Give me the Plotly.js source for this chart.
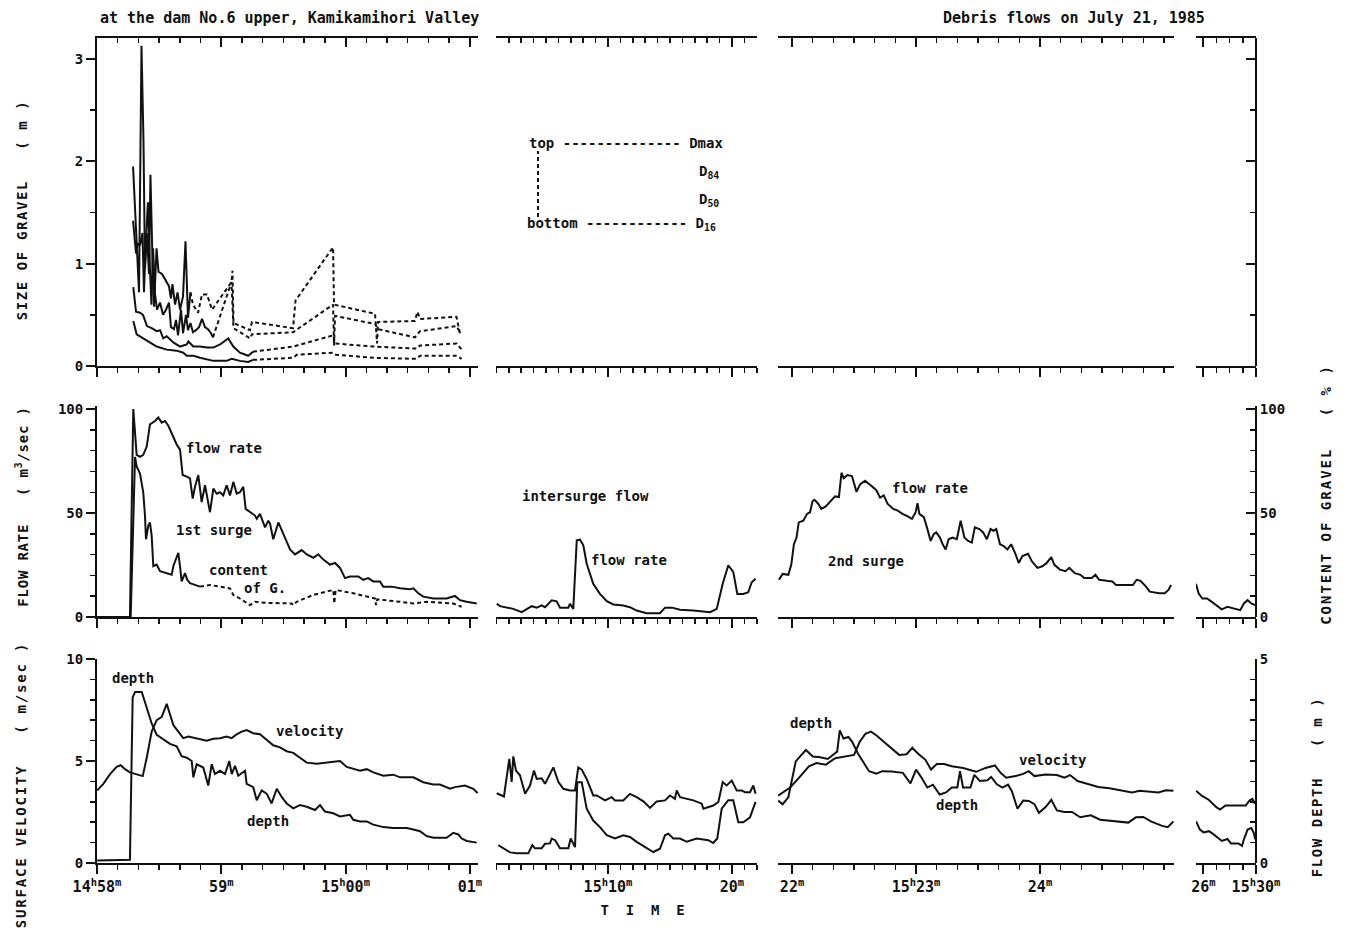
<!DOCTYPE html>
<html>
<head>
<meta charset="utf-8">
<script src="https://cdn.plot.ly/plotly-3.0.1.min.js"></script>
<style>
  html, body { margin: 0; padding: 0; background: #fff; }
  #chart { width: 1353px; height: 935px; }
  .ytitle  { letter-spacing: 1.6px; translate: 0px 8px; }
  .y2title { letter-spacing: 0.8px; translate: 0px -5px; }
  .y3title { letter-spacing: 1.8px; translate: 0px 24px; }
  .y4title { letter-spacing: 2px;   translate: 0px -17px; }
  .y5title { letter-spacing: 1.6px; translate: 0px 26px; }
  .x10title { translate: 16px 0px; }
</style>
</head>
<body>
<div id="chart"></div>
<script>
// ---------------- DATA (time t = minutes after 14h00m, July 21, 1985) ----------------
// Top panel: size of gravel (m), first surge
const dmaxSolidT = [58.290,58.314,58.338,58.358,58.374,58.386,58.402,58.418,58.430,58.447,58.459,58.479,58.495,58.523,58.547,58.579,58.595,58.607,58.628,58.648,58.668,58.692,58.712,58.732,58.752];
const dmaxSolidV = [1.95,1.25,0.72,3.13,2.2,0.95,1.3,0.9,1.87,1.0,0.58,1.15,0.92,0.9,0.85,0.78,0.66,0.8,0.6,0.72,0.55,0.68,1.22,0.47,0.72];
const dmaxDashT = [58.752,58.772,58.813,58.845,58.885,58.925,59.082,59.090,59.098,59.231,59.247,59.577,59.597,59.899,59.907,60.237,60.253,60.261,60.558,60.578,60.599,60.892,60.920];
const dmaxDashV = [0.72,0.6,0.52,0.7,0.7,0.55,0.82,0.93,0.42,0.35,0.43,0.37,0.64,1.16,0.6,0.51,0.22,0.43,0.44,0.53,0.46,0.48,0.32];

const d84SolidT = [58.290,58.314,58.330,58.346,58.366,58.378,58.394,58.410,58.426,58.438,58.451,58.467,58.483,58.507,58.531,58.555,58.579,58.595,58.619,58.636,58.652,58.676,58.692,58.716,58.732,58.752,58.772,58.796,58.821,58.845,58.869,58.893,58.917,58.933];
const d84SolidV = [1.42,1.1,1.2,1.18,1.3,0.72,1.25,1.6,0.95,0.6,1.15,0.7,0.55,0.62,0.5,0.55,0.62,0.38,0.36,0.45,0.3,0.55,0.32,0.5,0.35,0.42,0.33,0.35,0.38,0.46,0.38,0.36,0.32,0.28];
const d84DashT = [58.933,59.082,59.098,59.231,59.247,59.577,59.899,59.907,59.915,60.237,60.261,60.558,60.599,60.892,60.920];
const d84DashV = [0.28,0.82,0.37,0.27,0.31,0.33,0.6,0.2,0.49,0.41,0.36,0.28,0.34,0.39,0.33];

const d50SolidT = [58.292,58.314,58.346,58.370,58.402,58.440,58.480,58.507,58.533,58.561,58.614,58.668,58.722,58.735,58.775,58.829,58.883,58.936,58.990,59.056,59.097,59.150,59.217,59.255];
const d50SolidV = [0.77,0.53,0.52,0.50,0.39,0.37,0.34,0.35,0.27,0.29,0.23,0.19,0.21,0.24,0.19,0.19,0.18,0.18,0.21,0.27,0.19,0.13,0.10,0.14];
const d50DashT = [59.255,59.579,59.901,59.915,60.223,60.572,60.599,60.894,60.934];
const d50DashV = [0.14,0.19,0.3,0.22,0.19,0.17,0.2,0.22,0.16];

const d16SolidT = [58.292,58.319,58.372,58.426,58.480,58.561,58.641,58.694,58.722,58.775,58.829,58.936,59.043,59.084,59.150,59.217,59.255];
const d16SolidV = [0.44,0.31,0.27,0.23,0.19,0.16,0.15,0.13,0.10,0.10,0.08,0.05,0.05,0.07,0.05,0.04,0.06];
const d16DashT = [59.255,59.579,59.606,59.901,59.923,60.223,60.572,60.599,60.894,60.934];
const d16DashV = [0.06,0.08,0.11,0.13,0.11,0.08,0.07,0.10,0.10,0.07];

// Middle panel: flow rate (m3/sec) and content of gravel (%)
const flow1T = [58.000,58.265,58.292,58.319,58.346,58.372,58.400,58.426,58.467,58.493,58.521,58.547,58.574,58.601,58.641,58.668,58.689,58.722,58.748,58.770,58.788,58.815,58.842,58.869,58.895,58.909,58.936,58.963,58.990,59.016,59.043,59.070,59.097,59.124,59.150,59.177,59.196,59.231,59.271,59.285,59.311,59.352,59.378,59.392,59.418,59.459,59.499,59.553,59.593,59.647,59.687,59.740,59.780,59.821,59.874,59.915,59.955,59.995,60.035,60.102,60.142,60.182,60.223,60.277,60.303,60.371,60.438,60.518,60.545,60.585,60.625,60.706,60.813,60.880,60.920,60.974,61.055];
const flow1V = [0,0,100,78,77,78,82,92.7,94.3,96,93.5,94.3,92,88.6,83,80.5,68.3,67.5,66.7,57,62.6,68.3,55.3,63.4,53.7,50.4,61.8,59.3,60,58.5,63.4,58.5,65,59.3,60,62.6,52,50.4,48.8,47.2,49.6,43.1,46.3,45,37.4,45.5,39.8,32.5,30.1,32.2,30.1,28.5,30.1,27.6,25.2,26,23.6,18.7,19.5,19.5,17.9,18.7,17.1,17.1,14.6,14.6,13.8,13.3,13.8,11.4,9.8,8.9,8.9,10.1,8.1,7.3,6.5];
const contentSolidT = [58.271,58.306,58.319,58.346,58.372,58.386,58.394,58.413,58.426,58.440,58.453,58.480,58.507,58.561,58.601,58.614,58.641,58.654,58.668,58.681,58.708,58.726,58.748,58.829];
const contentSolidV = [0,77,72.4,69,60,48.8,37.4,44,45.5,39,24.4,25.2,22,21.1,20.3,24.4,29.3,30.9,24.4,17.1,21.1,17.9,16.3,14.6];
const contentDashT = [58.829,58.909,58.990,59.070,59.097,59.150,59.231,59.271,59.365,59.566,59.579,59.606,59.740,59.901,59.909,59.920,60.062,60.237,60.245,60.255,60.438,60.545,60.652,60.866,60.934];
const contentDashV = [14.6,15.4,14.6,13.8,10.6,8.9,5.7,7.3,6.8,6.5,5.7,7.3,10.6,13,6.5,13,11.4,8.9,5.7,8.5,7.3,6.5,7.3,6.5,4.9];
const flow2T = [61.02,61.29,62.36,63.04,63.85,64.25,64.65,64.92,65.46,65.86,66.13,66.80,66.94,67.20,67.48,67.74,68.01,68.28,68.81,69.35,69.90,70.43,71.23,71.77,72.31,73.12,74.19,74.60,75.16,75.81,76.88,78.23,78.77,79.25,79.70,80.10,80.43,80.91,81.31,81.59,81.90];
const flow2V = [6.4,5.2,3.9,2.3,5.2,4.5,5.6,4.7,8.0,7.5,4.5,4.5,6.4,3.9,36.9,37.2,34.5,25.6,16,11.1,7.6,6.0,5.5,4.7,3.1,1.8,1.8,4.5,4.5,3.5,3.1,2.3,3.9,16,24.9,21.7,11.1,11.1,11.9,16.7,18.4];
const flow3T = [81.894,81.924,81.970,81.994,82.015,82.036,82.054,82.091,82.121,82.145,82.166,82.181,82.211,82.236,82.272,82.302,82.347,82.378,82.399,82.417,82.447,82.483,82.520,82.550,82.589,82.634,82.680,82.710,82.740,82.770,82.816,82.852,82.891,82.937,82.967,82.997,83.012,83.027,83.063,83.088,83.118,83.142,83.163,83.193,83.215,83.239,83.263,83.293,83.329,83.360,83.390,83.420,83.450,83.474,83.511,83.541,83.571,83.601,83.625,83.647,83.677,83.707,83.737,83.767,83.798,83.828,83.858,83.903,83.934,83.979,84.018,84.054,84.091,84.115,84.160,84.205,84.236,84.281,84.326,84.356,84.417,84.447,84.477,84.538,84.583,84.613,84.674,84.749,84.779,84.810,84.855,84.885,84.961,85.006,85.036,85.057];
const flow3V = [17.9,20.7,20.3,25.2,35,38.2,45.5,46.3,49.6,50.4,55.8,56.4,54.5,52,53.2,55.3,58,57.7,69.4,66.7,68.3,67.8,60.2,63.9,65.5,63.4,61,57.4,58.5,54.5,52,51.2,49.6,48.3,47.2,50.4,54.8,49.6,48,43.1,36.6,39.8,40.7,38.2,35,32.5,37.4,38.2,37.4,46.3,38.2,36.6,35.8,43.1,42.3,40.7,37.4,42.3,41.5,42.3,35,34.1,32.5,35,30.9,26,29.3,30.4,26.8,23.6,24.4,26,28.8,25.2,22.8,22,23.6,21.1,20.3,18.7,18.7,20.3,17.9,17.4,17.1,15.4,15.4,15.4,17.9,17.4,14.6,12.2,11.4,11.4,13,15.4];
const flow4T = [85.43,85.63,85.91,86.27,86.69,87.11,87.39,87.82,88.24,88.80,89.08,89.36,89.64,89.92];
const flow4V = [16,11.4,8.9,8.9,7,4.9,3.7,4.9,4.1,3.3,6.5,8.1,6.5,5.7];

// Bottom panel: surface velocity (m/sec) and flow depth (m)
const vel1T = [58.002,58.051,58.105,58.158,58.191,58.225,58.265,58.319,58.368,58.400,58.440,58.480,58.521,58.561,58.614,58.654,58.694,58.735,58.788,58.829,58.883,58.936,58.990,59.043,59.084,59.124,59.164,59.204,59.257,59.311,59.365,59.418,59.472,59.526,59.579,59.633,59.687,59.767,59.848,59.901,59.955,60.009,60.062,60.116,60.170,60.223,60.303,60.384,60.438,60.545,60.625,60.706,60.759,60.840,60.880,60.961,61.027,61.063];
const vel1V = [3.56,3.88,4.36,4.71,4.79,4.6,4.44,4.33,4.26,5.16,6.44,7.0,7.16,7.8,6.76,6.44,6.12,6.2,6.12,6.09,5.99,6.09,6.12,6.2,6.12,6.31,6.44,6.52,6.36,6.31,6.04,5.77,5.67,5.48,5.4,5.16,4.92,4.87,4.92,4.97,5.0,4.71,4.6,4.52,4.6,4.44,4.28,4.33,4.2,4.2,3.96,3.85,3.85,3.64,3.72,3.8,3.64,3.43];
const depth1T = [58.002,58.265,58.287,58.306,58.360,58.386,58.413,58.440,58.480,58.533,58.587,58.641,58.681,58.722,58.762,58.775,58.802,58.855,58.895,58.923,58.949,58.990,59.030,59.064,59.084,59.110,59.137,59.191,59.204,59.257,59.285,59.325,59.365,59.405,59.446,59.486,59.526,59.579,59.633,59.687,59.754,59.794,59.834,59.901,59.955,60.035,60.062,60.116,60.170,60.223,60.303,60.384,60.492,60.545,60.599,60.652,60.706,60.813,60.866,60.907,60.934,60.975,61.055];
const depth1V = [0.06,0.08,4.06,4.19,4.19,3.94,3.66,3.42,3.14,3.02,2.92,2.86,2.62,2.58,2.5,2.1,2.42,2.34,1.9,2.42,2.18,2.26,2.18,2.5,2.18,2.38,2.14,2.26,1.94,1.86,1.54,1.78,1.7,1.46,1.82,1.62,1.46,1.34,1.42,1.38,1.3,1.42,1.26,1.22,1.14,1.18,1.06,1.02,1.02,0.94,0.88,0.86,0.86,0.82,0.78,0.66,0.62,0.62,0.74,0.70,0.60,0.54,0.50];
const vel2T = [61.02,61.61,61.77,62.04,62.23,62.36,62.58,62.90,63.31,63.71,64.03,64.25,64.65,64.92,65.59,66.00,66.40,66.94,67.34,67.60,67.88,68.28,68.81,69.09,69.76,70.30,70.56,71.23,71.77,72.31,72.85,73.39,73.93,74.60,75.00,75.40,75.54,75.81,76.88,77.56,77.69,78.49,78.90,79.25,79.57,79.98,80.38,80.78,81.05,81.45,81.72,81.90];
const vel2V = [3.42,3.26,3.97,5.1,3.97,5.23,4.53,4.3,3.39,3.8,4.53,4.12,4.15,3.88,4.69,3.97,3.64,3.56,3.56,4.69,4.58,4.12,3.31,3.31,3.07,3.23,3.07,3.07,3.39,3.23,3.02,2.7,3.02,3.07,3.31,3.15,3.56,3.23,3.07,2.91,2.66,2.82,2.99,3.97,3.8,4.04,3.56,3.56,3.47,3.47,3.8,3.39];
const depth2T = [61.15,61.56,62.10,62.64,63.57,63.90,64.11,64.65,64.92,65.32,65.46,65.73,66.13,66.80,66.99,67.34,67.52,67.88,68.28,68.81,69.35,69.90,70.56,71.23,71.77,72.31,72.98,73.65,74.19,74.60,74.86,75.27,75.81,76.35,77.15,78.09,78.49,78.81,79.17,79.70,80.10,80.51,80.91,81.45,81.90];
const depth2V = [0.44,0.36,0.26,0.24,0.24,0.44,0.36,0.36,0.47,0.48,0.6,0.56,0.36,0.36,0.6,0.39,1.98,1.98,1.33,1.04,0.88,0.68,0.6,0.68,0.64,0.52,0.39,0.27,0.35,0.68,0.72,0.6,0.6,0.52,0.6,0.56,0.49,0.6,1.33,1.54,1.54,1.0,1.0,1.12,1.5];
const vel3T = [81.888,81.985,82.045,82.136,82.197,82.273,82.348,82.424,82.500,82.545,82.591,82.636,82.682,82.742,82.803,82.864,82.924,82.970,83.015,83.076,83.121,83.167,83.227,83.288,83.379,83.485,83.561,83.636,83.682,83.727,83.803,83.864,83.909,83.955,84.045,84.136,84.197,84.242,84.303,84.379,84.470,84.561,84.652,84.742,84.803,84.894,84.955,85.015,85.076];
const vel3V = [3.30,3.70,4.10,4.74,4.90,4.82,5.14,5.22,5.30,5.93,6.33,6.44,6.25,5.93,5.61,5.30,5.33,5.65,5.37,5.06,4.58,4.85,4.85,4.74,4.66,4.47,4.66,4.78,4.42,4.18,4.26,4.37,4.50,4.26,4.34,4.31,4.18,4.31,4.02,3.89,3.73,3.67,3.57,3.46,3.54,3.51,3.46,3.57,3.54];
const depth3T = [81.888,81.924,81.970,82.000,82.030,82.076,82.112,82.167,82.227,82.288,82.333,82.364,82.385,82.415,82.455,82.485,82.530,82.576,82.621,82.682,82.727,82.803,82.894,82.955,83.000,83.045,83.091,83.136,83.191,83.242,83.288,83.333,83.355,83.379,83.439,83.470,83.515,83.576,83.606,83.652,83.697,83.742,83.773,83.818,83.864,83.909,83.955,83.991,84.045,84.091,84.136,84.197,84.258,84.324,84.409,84.485,84.591,84.712,84.773,84.833,84.894,84.985,85.030,85.076];
const depth3V = [1.53,1.44,1.61,2.01,2.49,2.65,2.77,2.61,2.59,2.55,2.65,2.73,3.25,3.05,3.09,2.97,2.69,2.45,2.25,2.19,2.25,2.24,2.21,1.95,2.29,2.09,1.85,1.92,1.68,1.73,1.85,1.85,2.25,1.85,1.85,2.16,2.01,2.03,2.11,1.93,1.85,1.92,1.76,1.33,1.53,1.52,1.44,1.23,1.37,1.55,1.29,1.25,1.25,1.12,1.17,1.06,1.02,0.99,1.12,1.13,1.02,0.91,0.88,1.02];
const vel4T = [85.44,85.86,86.42,86.98,87.26,87.68,88.52,89.22,89.50,89.72,89.92];
const vel4V = [3.54,3.30,3.09,2.74,2.62,2.82,2.82,2.82,3.06,3.14,2.90];
const depth4T = [85.44,85.73,86.01,86.42,86.70,87.12,87.40,87.82,88.10,88.66,88.94,89.08,89.36,89.64,89.83,89.94];
const depth4V = [1.02,0.82,0.75,0.78,0.72,0.62,0.54,0.59,0.48,0.48,0.42,0.58,0.82,0.86,0.74,0.58];

// Tick positions and labels for the four time segments
const seg1TickVals = [58, 59, 60, 61];
const seg1TickText = ['14<sup>h</sup>58<sup>m</sup>', '59<sup>m</sup>', '15<sup>h</sup>00<sup>m</sup>', '01<sup>m</sup>'];
const seg2TickVals = [70, 80];
const seg2TickText = ['15<sup>h</sup>10<sup>m</sup>', '20<sup>m</sup>'];
const seg3TickVals = [82, 83, 84];
const seg3TickText = ['22<sup>m</sup>', '15<sup>h</sup>23<sup>m</sup>', '24<sup>m</sup>'];
const seg4TickVals = [86, 90];
const seg4TickText = ['26<sup>m</sup>', '15<sup>h</sup>30<sup>m</sup>'];

// ---------------- LAYOUT ----------------
const INK = '#111111';
const FAM = 'DejaVu Sans Mono, monospace';
const tickFont = {family: FAM, size: 15, color: INK, weight: 'bold'};
const textFont = {family: FAM, size: 14, color: INK, weight: 'bold'};
const NB = '\u00a0';
const sp = n => NB.repeat(n);

const SEG = [
  {domain: [0, 0.3287],      range: [58, 61.065],     tv: seg1TickVals, tt: seg1TickText, m0: 58, md: 1/6},
  {domain: [0.3443, 0.5695], range: [60.97, 82.02],   tv: seg2TickVals, tt: seg2TickText, m0: 61, md: 1},
  {domain: [0.5876, 0.9293], range: [81.887, 85.081], tv: seg3TickVals, tt: seg3TickText, m0: 82, md: 1/6},
  {domain: [0.9482, 1],      range: [85.43, 90],      tv: seg4TickVals, tt: seg4TickText, m0: 86, md: 1}
];

function xax(seg, anchor, extra) {
  return Object.assign({
    domain: seg.domain, range: seg.range, anchor: anchor,
    showline: true, linewidth: 2, linecolor: INK,
    showgrid: false, zeroline: false, fixedrange: true,
    ticks: 'outside', ticklen: 9, tickwidth: 2, tickcolor: INK,
    tickmode: 'array', tickvals: seg.tv, ticktext: seg.tt,
    showticklabels: false, tickfont: tickFont,
    minor: {tickmode: 'linear', tick0: seg.m0, dtick: seg.md, ticks: 'outside',
            ticklen: 5, tickwidth: 1.5, tickcolor: INK, showgrid: false}
  }, extra || {});
}
function topLine(seg, over) {
  return xax(seg, 'y', {overlaying: over, side: 'top', ticks: 'inside',
    minor: {tickmode: 'linear', tick0: seg.m0, dtick: seg.md, ticks: 'inside', ticklen: 5, tickwidth: 1.5, tickcolor: INK, showgrid: false}});
}
function yax(extra, minorD, ticksDir) {
  return Object.assign({
    showline: true, linewidth: 2, linecolor: INK,
    showgrid: false, zeroline: false, fixedrange: true,
    ticks: ticksDir, ticklen: 9, tickwidth: 2, tickcolor: INK,
    tickfont: {family: FAM, size: 14, color: INK, weight: 'bold'},
    minor: {dtick: minorD, ticks: ticksDir, ticklen: 5, tickwidth: 1.5, tickcolor: INK, showgrid: false}
  }, extra);
}
const titleFont = {family: FAM, size: 14, color: INK, weight: 'bold'};
function note(text, x, y) {
  return {text: text, xref: 'paper', yref: 'paper', x: x, y: y, xanchor: 'center', yanchor: 'middle', showarrow: false, font: textFont};
}

const layout = {
  width: 1353, height: 935,
  margin: {l: 97, r: 97, t: 38, b: 70},
  paper_bgcolor: '#ffffff', plot_bgcolor: 'rgba(0,0,0,0)',
  showlegend: false,
  font: {family: FAM, color: INK},
  title: {text: 'at the dam No.6 upper, Kamikamihori Valley', xref: 'container', yref: 'container',
          x: 100/1353, xanchor: 'left', y: 1 - 18/935, yanchor: 'middle',
          font: {family: FAM, size: 15, color: INK, weight: 'bold'}},

  // top row (size of gravel)
  xaxis:  xax(SEG[0], 'y'), xaxis2: xax(SEG[1], 'y'), xaxis3: xax(SEG[2], 'y'), xaxis4: xax(SEG[3], 'y'),
  xaxis13: topLine(SEG[0], 'x'), xaxis14: topLine(SEG[1], 'x2'), xaxis15: topLine(SEG[2], 'x3'), xaxis16: topLine(SEG[3], 'x4'),
  // middle row (flow rate)
  xaxis5: xax(SEG[0], 'y2'), xaxis6: xax(SEG[1], 'y2'), xaxis7: xax(SEG[2], 'y2'), xaxis8: xax(SEG[3], 'y2'),
  // bottom row (velocity / depth)
  xaxis9:  xax(SEG[0], 'y3', {showticklabels: true}),
  xaxis10: xax(SEG[1], 'y3', {showticklabels: true,
             title: {text: 'T' + sp(2) + 'I' + sp(2) + 'M' + sp(2) + 'E', font: {family: FAM, size: 14, color: INK, weight: 'bold'}, standoff: 10}}),
  xaxis11: xax(SEG[2], 'y3', {showticklabels: true}),
  xaxis12: xax(SEG[3], 'y3', {showticklabels: true}),

  yaxis: yax({domain: [0.6034, 1], range: [0, 3.206], anchor: 'x', tickvals: [0, 1, 2, 3],
              title: {text: 'SIZE OF GRAVEL' + sp(3) + '(' + NB + 'm' + NB + ')', font: titleFont, standoff: 44}}, 0.5, 'outside'),
  yaxis6: yax({overlaying: 'y', side: 'right', anchor: 'free', position: 1, range: [0, 3.206],
               tickvals: [0, 1, 2, 3], showticklabels: false}, 0.5, 'inside'),
  yaxis2: yax({domain: [0.2999, 0.5550], range: [0, 101.5], anchor: 'x5', tickvals: [0, 50, 100],
               title: {text: 'FLOW RATE' + sp(3) + '(' + NB + 'm<sup>3</sup>/sec' + NB + ')', font: titleFont, standoff: 26}}, 10, 'outside'),
  yaxis4: yax({overlaying: 'y2', side: 'right', anchor: 'free', position: 1, range: [0, 101.5], tickvals: [0, 50, 100],
               title: {text: 'CONTENT OF GRAVEL' + sp(3) + '(' + NB + '%' + NB + ')', font: titleFont, standoff: 36}}, 10, 'inside'),
  yaxis3: yax({domain: [0.0024, 0.2491], range: [0, 10], anchor: 'x9', tickvals: [0, 5, 10],
               title: {text: 'SURFACE VELOCITY' + sp(3) + '(' + NB + 'm/sec' + NB + ')', font: titleFont, standoff: 36}}, 1, 'outside'),
  yaxis5: yax({overlaying: 'y3', side: 'right', anchor: 'free', position: 1, range: [0, 5], tickvals: [0, 5],
               title: {text: 'FLOW DEPTH' + sp(3) + '(' + NB + 'm' + NB + ')', font: titleFont, standoff: 44}}, 0.5, 'inside'),

  annotations: [
    {text: 'Debris flows on July 21, 1985', xref: 'paper', yref: 'paper', x: 0.9577, y: 1.0242,
     xanchor: 'right', yanchor: 'middle', showarrow: false, font: {family: FAM, size: 15, color: INK, weight: 'bold'}},
    // legend of the size curves
    {text: 'top' + NB + '--------------' + NB + 'Dmax', xref: 'paper', yref: 'paper', x: 0.3710, y: 0.8730, xanchor: 'left', yanchor: 'middle', showarrow: false, font: textFont},
    {text: 'D<sub>84</sub>', xref: 'paper', yref: 'paper', x: 0.5177, y: 0.8380, xanchor: 'left', yanchor: 'middle', showarrow: false, font: textFont},
    {text: 'D<sub>50</sub>', xref: 'paper', yref: 'paper', x: 0.5177, y: 0.8041, xanchor: 'left', yanchor: 'middle', showarrow: false, font: textFont},
    {text: 'bottom' + NB + '------------' + NB + 'D<sub>16</sub>', xref: 'paper', yref: 'paper', x: 0.3693, y: 0.7751, xanchor: 'left', yanchor: 'middle', showarrow: false, font: textFont},
    // curve labels
    note('flow rate', 0.1096, 0.5042),
    note('1st surge', 0.1009, 0.4051),
    note('content', 0.1217, 0.3567),
    note('of G.', 0.1450, 0.3349),
    note('intersurge flow', 0.4211, 0.4462),
    note('flow rate', 0.4590, 0.3688),
    note('flow rate', 0.7187, 0.4559),
    note('2nd surge', 0.6635, 0.3676),
    note('depth', 0.0311, 0.2261),
    note('velocity', 0.1838, 0.1620),
    note('depth', 0.1475, 0.0532),
    note('depth', 0.6161, 0.1717),
    note('velocity', 0.8249, 0.1270),
    note('depth', 0.7420, 0.0726)
  ],
  shapes: [
    {type: 'line', xref: 'paper', yref: 'paper', x0: 0.3805, x1: 0.3805, y0: 0.7836, y1: 0.8634,
     line: {color: INK, width: 2, dash: '4px,3px'}}
  ]
};

// ---------------- TRACES ----------------
function ln(name, x, y, xa, ya, dash) {
  return {type: 'scatter', mode: 'lines', name: name, x: x, y: y, xaxis: xa, yaxis: ya,
          line: {color: INK, width: 2, dash: dash || 'solid'}, hoverinfo: 'skip', showlegend: false};
}
function empty(xa, ya) { return {type: 'scatter', mode: 'lines', x: [], y: [], xaxis: xa, yaxis: ya, showlegend: false, hoverinfo: 'skip'}; }
const DASH = '4px,3px';

const data = [
  ln('Dmax', dmaxSolidT, dmaxSolidV, 'x', 'y'), ln('Dmax', dmaxDashT, dmaxDashV, 'x', 'y', DASH),
  ln('D84', d84SolidT, d84SolidV, 'x', 'y'),    ln('D84', d84DashT, d84DashV, 'x', 'y', DASH),
  ln('D50', d50SolidT, d50SolidV, 'x', 'y'),    ln('D50', d50DashT, d50DashV, 'x', 'y', DASH),
  ln('D16', d16SolidT, d16SolidV, 'x', 'y'),    ln('D16', d16DashT, d16DashV, 'x', 'y', DASH),
  empty('x2', 'y'), empty('x3', 'y'), empty('x4', 'y'),
  empty('x13', 'y'), empty('x14', 'y'), empty('x15', 'y'), empty('x16', 'y'), empty('x4', 'y6'),

  ln('flow rate', flow1T, flow1V, 'x5', 'y2'),
  ln('content of G.', contentSolidT, contentSolidV, 'x5', 'y4'),
  ln('content of G.', contentDashT, contentDashV, 'x5', 'y4', DASH),
  ln('flow rate', flow2T, flow2V, 'x6', 'y2'),
  ln('flow rate', flow3T, flow3V, 'x7', 'y2'),
  ln('flow rate', flow4T, flow4V, 'x8', 'y2'),

  ln('velocity', vel1T, vel1V, 'x9', 'y3'),   ln('depth', depth1T, depth1V, 'x9', 'y5'),
  ln('velocity', vel2T, vel2V, 'x10', 'y3'),  ln('depth', depth2T, depth2V, 'x10', 'y5'),
  ln('velocity', vel3T, vel3V, 'x11', 'y3'),  ln('depth', depth3T, depth3V, 'x11', 'y5'),
  ln('velocity', vel4T, vel4V, 'x12', 'y3'),  ln('depth', depth4T, depth4V, 'x12', 'y5')
];

Plotly.newPlot('chart', data, layout, {displayModeBar: false, staticPlot: true});
</script>
</body>
</html>
